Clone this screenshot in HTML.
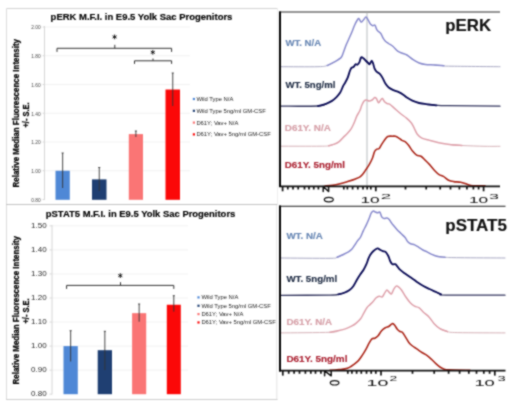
<!DOCTYPE html>
<html><head><meta charset="utf-8"><style>
html,body{margin:0;padding:0;background:#fff;}
svg{display:block;font-family:"Liberation Sans", sans-serif;}

</style></head><body>
<svg width="520" height="401" viewBox="0 0 520 401">
<defs><filter id="bl" x="0" y="0" width="520" height="401" filterUnits="userSpaceOnUse" color-interpolation-filters="sRGB"><feConvolveMatrix order="3" kernelMatrix="1 2 1 2 8 2 1 2 1" edgeMode="duplicate"/></filter></defs>
<g filter="url(#bl)">
<rect width="520" height="401" fill="#fff"/>
<line x1="6.5" y1="8.5" x2="277.5" y2="8.5" stroke="#d4d4d4" stroke-width="1"/>
<line x1="6.5" y1="8.5" x2="6.5" y2="400" stroke="#dcdcdc" stroke-width="1"/>
<line x1="277.5" y1="8.5" x2="277.5" y2="204" stroke="#eeeeee" stroke-width="1"/>
<line x1="276.8" y1="205" x2="276.8" y2="400" stroke="#e4e4e4" stroke-width="1"/>
<line x1="6" y1="204.5" x2="277.5" y2="204.5" stroke="#c4c4c4" stroke-width="1"/>
<line x1="6" y1="399.5" x2="277.5" y2="399.5" stroke="#cfcfcf" stroke-width="1"/>
<text x="50.6" y="20.3" font-size="9.2" font-weight="bold" fill="#000" text-anchor="start" textLength="181.8" lengthAdjust="spacingAndGlyphs" stroke="#000" stroke-width="0.15" >pERK M.F.I. in E9.5 Yolk Sac Progenitors</text>
<line x1="44" y1="27.00000000000003" x2="190" y2="27.00000000000003" stroke="#f2f2f2" stroke-width="1"/>
<line x1="44" y1="55.75" x2="190" y2="55.75" stroke="#f2f2f2" stroke-width="1"/>
<line x1="44" y1="84.5" x2="190" y2="84.5" stroke="#f2f2f2" stroke-width="1"/>
<line x1="44" y1="113.25000000000003" x2="190" y2="113.25000000000003" stroke="#f2f2f2" stroke-width="1"/>
<line x1="44" y1="142.0" x2="190" y2="142.0" stroke="#f2f2f2" stroke-width="1"/>
<line x1="44" y1="170.75" x2="190" y2="170.75" stroke="#f2f2f2" stroke-width="1"/>
<text x="40.6" y="29.30000000000003" font-size="4.8" font-weight="normal" fill="#444" text-anchor="end" >2.00</text>
<line x1="42.5" y1="27.00000000000003" x2="44.5" y2="27.00000000000003" stroke="#cfcfcf" stroke-width="0.8"/>
<text x="40.6" y="58.05" font-size="4.8" font-weight="normal" fill="#444" text-anchor="end" >1.80</text>
<line x1="42.5" y1="55.75" x2="44.5" y2="55.75" stroke="#cfcfcf" stroke-width="0.8"/>
<text x="40.6" y="86.8" font-size="4.8" font-weight="normal" fill="#444" text-anchor="end" >1.60</text>
<line x1="42.5" y1="84.5" x2="44.5" y2="84.5" stroke="#cfcfcf" stroke-width="0.8"/>
<text x="40.6" y="115.55000000000003" font-size="4.8" font-weight="normal" fill="#444" text-anchor="end" >1.40</text>
<line x1="42.5" y1="113.25000000000003" x2="44.5" y2="113.25000000000003" stroke="#cfcfcf" stroke-width="0.8"/>
<text x="40.6" y="144.3" font-size="4.8" font-weight="normal" fill="#444" text-anchor="end" >1.20</text>
<line x1="42.5" y1="142.0" x2="44.5" y2="142.0" stroke="#cfcfcf" stroke-width="0.8"/>
<text x="40.6" y="173.05" font-size="4.8" font-weight="normal" fill="#444" text-anchor="end" >1.00</text>
<line x1="42.5" y1="170.75" x2="44.5" y2="170.75" stroke="#cfcfcf" stroke-width="0.8"/>
<text x="40.6" y="201.8" font-size="4.8" font-weight="normal" fill="#444" text-anchor="end" >0.80</text>
<line x1="42.5" y1="199.5" x2="44.5" y2="199.5" stroke="#cfcfcf" stroke-width="0.8"/>
<line x1="44.5" y1="26" x2="44.5" y2="200" stroke="#d6d6d6" stroke-width="1"/>
<rect x="55.5" y="170.75" width="14.299999999999997" height="29.05000000000001" fill="#4f88d6"/>
<line x1="62.65" y1="153" x2="62.65" y2="188" stroke="#333" stroke-width="0.9"/>
<line x1="61.65" y1="153" x2="63.65" y2="153" stroke="#333" stroke-width="0.9"/>
<rect x="92" y="179.375" width="14.5" height="20.42500000000001" fill="#1f3f72"/>
<line x1="99.25" y1="167.5" x2="99.25" y2="191" stroke="#333" stroke-width="0.9"/>
<line x1="98.25" y1="167.5" x2="100.25" y2="167.5" stroke="#333" stroke-width="0.9"/>
<rect x="128.8" y="134.09375000000003" width="14.199999999999989" height="65.70624999999998" fill="#fa7575"/>
<line x1="135.9" y1="131" x2="135.9" y2="137" stroke="#333" stroke-width="0.9"/>
<line x1="134.9" y1="131" x2="136.9" y2="131" stroke="#333" stroke-width="0.9"/>
<rect x="165.5" y="89.53125000000001" width="14.5" height="110.26875" fill="#fb0808"/>
<line x1="172.75" y1="73" x2="172.75" y2="106" stroke="#333" stroke-width="0.9"/>
<line x1="171.75" y1="73" x2="173.75" y2="73" stroke="#333" stroke-width="0.9"/>
<polyline points="57.0,51.5 57.0,48.3 171.6,48.3 171.6,51.5" fill="none" stroke="#333" stroke-width="1" stroke-linejoin="round" stroke-linecap="round" />
<line x1="114.8" y1="48.3" x2="114.8" y2="44.8" stroke="#333" stroke-width="1"/>
<line x1="114.60" y1="34.50" x2="114.60" y2="39.30" stroke="#000" stroke-width="0.85"/><line x1="112.52" y1="35.70" x2="116.68" y2="38.10" stroke="#000" stroke-width="0.85"/><line x1="116.68" y1="35.70" x2="112.52" y2="38.10" stroke="#000" stroke-width="0.85"/>
<polyline points="134.5,63.5 134.5,60.8 171.6,60.8 171.6,63.5" fill="none" stroke="#333" stroke-width="1" stroke-linejoin="round" stroke-linecap="round" />
<line x1="153" y1="60.8" x2="153" y2="58.5" stroke="#333" stroke-width="1"/>
<line x1="152.80" y1="49.90" x2="152.80" y2="54.70" stroke="#000" stroke-width="0.85"/><line x1="150.72" y1="51.10" x2="154.88" y2="53.50" stroke="#000" stroke-width="0.85"/><line x1="154.88" y1="51.10" x2="150.72" y2="53.50" stroke="#000" stroke-width="0.85"/>
<rect x="192.8" y="97.9" width="2.2" height="2.2" fill="#4f88d6"/>
<text x="196.4" y="101.0" font-size="5.85" font-weight="normal" fill="#1a1a1a" text-anchor="start" >Wild Type N/A</text>
<rect x="192.8" y="109.7" width="2.2" height="2.2" fill="#1f3f72"/>
<text x="196.4" y="112.8" font-size="5.85" font-weight="normal" fill="#1a1a1a" text-anchor="start" >Wild Type 5ng/ml GM-CSF</text>
<rect x="192.8" y="121.5" width="2.2" height="2.2" fill="#fa7575"/>
<text x="196.4" y="124.6" font-size="5.85" font-weight="normal" fill="#1a1a1a" text-anchor="start" >D61Y; Vav+ N/A</text>
<rect x="192.8" y="133.3" width="2.2" height="2.2" fill="#fb0808"/>
<text x="196.4" y="136.4" font-size="5.85" font-weight="normal" fill="#1a1a1a" text-anchor="start" >D61Y; Vav+ 5ng/ml GM-CSF</text>
<g transform="translate(18.9,113.2) rotate(-90)"><text x="0" y="0" font-size="8.5" font-weight="bold" fill="#000" text-anchor="middle" textLength="148.5" lengthAdjust="spacingAndGlyphs" stroke="#000" stroke-width="0.25" >Relative Median Fluorescence Intensity</text></g>
<g transform="translate(28.8,115) rotate(-90)"><text x="0" y="0" font-size="8.5" font-weight="bold" fill="#000" text-anchor="middle" textLength="25" lengthAdjust="spacingAndGlyphs" stroke="#000" stroke-width="0.25" >+/- S.E.</text></g>
<text x="45.8" y="216.5" font-size="9.4" font-weight="bold" fill="#000" text-anchor="start" textLength="189.5" lengthAdjust="spacingAndGlyphs" stroke="#000" stroke-width="0.15" >pSTAT5 M.F.I. in E9.5 Yolk Sac Progenitors</text>
<line x1="52" y1="225.85" x2="188" y2="225.85" stroke="#f2f2f2" stroke-width="1"/>
<line x1="52" y1="249.90000000000003" x2="188" y2="249.90000000000003" stroke="#f2f2f2" stroke-width="1"/>
<line x1="52" y1="273.95" x2="188" y2="273.95" stroke="#f2f2f2" stroke-width="1"/>
<line x1="52" y1="298.0" x2="188" y2="298.0" stroke="#f2f2f2" stroke-width="1"/>
<line x1="52" y1="322.04999999999995" x2="188" y2="322.04999999999995" stroke="#f2f2f2" stroke-width="1"/>
<line x1="52" y1="346.1" x2="188" y2="346.1" stroke="#f2f2f2" stroke-width="1"/>
<line x1="52" y1="370.15" x2="188" y2="370.15" stroke="#f2f2f2" stroke-width="1"/>
<text x="46.6" y="227.75" font-size="8" font-weight="normal" fill="#2a2a2a" text-anchor="end" >1.50</text>
<line x1="49.5" y1="225.85" x2="52" y2="225.85" stroke="#cfcfcf" stroke-width="0.8"/>
<text x="46.6" y="251.80000000000004" font-size="8" font-weight="normal" fill="#2a2a2a" text-anchor="end" >1.40</text>
<line x1="49.5" y1="249.90000000000003" x2="52" y2="249.90000000000003" stroke="#cfcfcf" stroke-width="0.8"/>
<text x="46.6" y="275.84999999999997" font-size="8" font-weight="normal" fill="#2a2a2a" text-anchor="end" >1.30</text>
<line x1="49.5" y1="273.95" x2="52" y2="273.95" stroke="#cfcfcf" stroke-width="0.8"/>
<text x="46.6" y="299.9" font-size="8" font-weight="normal" fill="#2a2a2a" text-anchor="end" >1.20</text>
<line x1="49.5" y1="298.0" x2="52" y2="298.0" stroke="#cfcfcf" stroke-width="0.8"/>
<text x="46.6" y="323.94999999999993" font-size="8" font-weight="normal" fill="#2a2a2a" text-anchor="end" >1.10</text>
<line x1="49.5" y1="322.04999999999995" x2="52" y2="322.04999999999995" stroke="#cfcfcf" stroke-width="0.8"/>
<text x="46.6" y="348.0" font-size="8" font-weight="normal" fill="#2a2a2a" text-anchor="end" >1.00</text>
<line x1="49.5" y1="346.1" x2="52" y2="346.1" stroke="#cfcfcf" stroke-width="0.8"/>
<text x="46.6" y="372.04999999999995" font-size="8" font-weight="normal" fill="#2a2a2a" text-anchor="end" >0.90</text>
<line x1="49.5" y1="370.15" x2="52" y2="370.15" stroke="#cfcfcf" stroke-width="0.8"/>
<text x="46.6" y="396.09999999999997" font-size="8" font-weight="normal" fill="#2a2a2a" text-anchor="end" >0.80</text>
<line x1="49.5" y1="394.2" x2="52" y2="394.2" stroke="#cfcfcf" stroke-width="0.8"/>
<line x1="52" y1="225" x2="52" y2="394.5" stroke="#d6d6d6" stroke-width="1"/>
<rect x="63.5" y="346.1" width="14.299999999999997" height="48.099999999999966" fill="#4f88d6"/>
<line x1="70.65" y1="330.7" x2="70.65" y2="361.5" stroke="#333" stroke-width="0.9"/>
<line x1="69.65" y1="330.7" x2="71.65" y2="330.7" stroke="#333" stroke-width="0.9"/>
<rect x="97.7" y="350.1885" width="14.299999999999997" height="44.01150000000001" fill="#1f3f72"/>
<line x1="104.85" y1="331.3" x2="104.85" y2="370" stroke="#333" stroke-width="0.9"/>
<line x1="103.85" y1="331.3" x2="105.85" y2="331.3" stroke="#333" stroke-width="0.9"/>
<rect x="132.1" y="313.1515" width="14.099999999999994" height="81.04849999999999" fill="#fa7575"/>
<line x1="139.14999999999998" y1="304" x2="139.14999999999998" y2="321.7" stroke="#333" stroke-width="0.9"/>
<line x1="138.14999999999998" y1="304" x2="140.14999999999998" y2="304" stroke="#333" stroke-width="0.9"/>
<rect x="166.8" y="304.73400000000004" width="14.0" height="89.46599999999995" fill="#fb0808"/>
<line x1="173.8" y1="295.7" x2="173.8" y2="311.7" stroke="#333" stroke-width="0.9"/>
<line x1="172.8" y1="295.7" x2="174.8" y2="295.7" stroke="#333" stroke-width="0.9"/>
<polyline points="66.6,288.5 66.6,285.4 173.8,285.4 173.8,288.5" fill="none" stroke="#333" stroke-width="1" stroke-linejoin="round" stroke-linecap="round" />
<line x1="120.5" y1="285.4" x2="120.5" y2="282.2" stroke="#333" stroke-width="1"/>
<line x1="120.30" y1="273.20" x2="120.30" y2="278.00" stroke="#000" stroke-width="0.85"/><line x1="118.22" y1="274.40" x2="122.38" y2="276.80" stroke="#000" stroke-width="0.85"/><line x1="122.38" y1="274.40" x2="118.22" y2="276.80" stroke="#000" stroke-width="0.85"/>
<rect x="197.4" y="296.29999999999995" width="2.2" height="2.2" fill="#4f88d6"/>
<text x="201.4" y="299.4" font-size="5.85" font-weight="normal" fill="#1a1a1a" text-anchor="start" >Wild Type N/A</text>
<rect x="197.4" y="304.65" width="2.2" height="2.2" fill="#1f3f72"/>
<text x="201.4" y="307.75" font-size="5.85" font-weight="normal" fill="#1a1a1a" text-anchor="start" >Wild Type 5ng/ml GM-CSF</text>
<rect x="197.4" y="312.99999999999994" width="2.2" height="2.2" fill="#fa7575"/>
<text x="201.4" y="316.09999999999997" font-size="5.85" font-weight="normal" fill="#1a1a1a" text-anchor="start" >D61Y; Vav+ N/A</text>
<rect x="197.4" y="321.34999999999997" width="2.2" height="2.2" fill="#fb0808"/>
<text x="201.4" y="324.45" font-size="5.85" font-weight="normal" fill="#1a1a1a" text-anchor="start" >D61Y; Vav+ 5ng/ml GM-CSF</text>
<g transform="translate(18.9,310.2) rotate(-90)"><text x="0" y="0" font-size="8.5" font-weight="bold" fill="#000" text-anchor="middle" textLength="148.5" lengthAdjust="spacingAndGlyphs" stroke="#000" stroke-width="0.25" >Relative Median Fluorescence Intensity</text></g>
<g transform="translate(28.8,311) rotate(-90)"><text x="0" y="0" font-size="8.5" font-weight="bold" fill="#000" text-anchor="middle" textLength="25" lengthAdjust="spacingAndGlyphs" stroke="#000" stroke-width="0.25" >+/- S.E.</text></g>
<line x1="279" y1="12" x2="500" y2="12" stroke="#2a2a2a" stroke-width="1.15"/>
<line x1="367" y1="12.5" x2="367" y2="186" stroke="#a9afb2" stroke-width="0.85"/>
<path d="M281.00,66.70 C287.17,66.70 310.30,66.90 318.00,66.70 C325.70,66.50 324.45,66.30 327.20,65.50 C329.95,64.70 333.28,62.50 334.50,61.90" fill="none" stroke="#a9a9c4" stroke-width="1.0" stroke-linejoin="round" stroke-linecap="round"/><path d="M434.60,65.00 C436.13,65.13 441.23,65.60 443.80,65.80 C446.37,66.00 440.63,66.05 450.00,66.20 C459.37,66.35 491.67,66.62 500.00,66.70" fill="none" stroke="#a9a9c4" stroke-width="1.0" stroke-linejoin="round" stroke-linecap="round"/><path d="M327.20,65.50 C328.42,64.90 332.20,63.22 334.50,61.90 C336.80,60.58 339.57,59.05 341.00,57.60 C342.43,56.15 342.27,55.25 343.10,53.20 C343.93,51.15 345.03,47.70 346.00,45.30 C346.97,42.90 347.93,40.98 348.90,38.80 C349.87,36.62 350.83,34.50 351.80,32.20 C352.77,29.90 353.78,27.03 354.70,25.00 C355.62,22.97 356.62,21.08 357.30,20.00 C357.98,18.92 358.15,18.15 358.80,18.50 C359.45,18.85 360.43,21.85 361.20,22.10 C361.97,22.35 362.60,20.83 363.40,20.00 C364.20,19.17 365.15,16.98 366.00,17.10 C366.85,17.22 367.73,19.50 368.50,20.70 C369.27,21.90 369.88,23.47 370.60,24.30 C371.32,25.13 372.07,25.53 372.80,25.70 C373.53,25.87 374.28,24.57 375.00,25.30 C375.72,26.03 376.13,28.73 377.10,30.10 C378.07,31.47 379.80,32.17 380.80,33.50 C381.80,34.83 382.33,36.82 383.10,38.10 C383.87,39.38 384.50,40.30 385.40,41.20 C386.30,42.10 387.22,42.62 388.50,43.50 C389.78,44.38 391.57,45.22 393.10,46.50 C394.63,47.78 396.17,50.08 397.70,51.20 C399.23,52.32 400.77,52.57 402.30,53.20 C403.83,53.83 405.10,53.93 406.90,55.00 C408.70,56.07 411.05,58.27 413.10,59.60 C415.15,60.93 417.15,62.18 419.20,63.00 C421.25,63.82 422.83,64.17 425.40,64.50 C427.97,64.83 431.53,64.78 434.60,65.00 C437.67,65.22 442.27,65.67 443.80,65.80" fill="none" stroke="#8789cc" stroke-width="1.5" stroke-linejoin="round" stroke-linecap="round"/>
<path d="M281.00,106.20 C287.17,106.17 310.50,106.40 318.00,106.00 C325.50,105.60 324.67,104.17 326.00,103.80" fill="none" stroke="#33355e" stroke-width="1.3" stroke-linejoin="round" stroke-linecap="round"/><path d="M427.10,104.30 C428.67,104.47 433.13,105.07 436.50,105.30 C439.87,105.53 436.72,105.55 447.30,105.70 C457.88,105.85 491.22,106.12 500.00,106.20" fill="none" stroke="#33355e" stroke-width="1.3" stroke-linejoin="round" stroke-linecap="round"/><path d="M318.00,106.00 C319.33,105.63 323.67,104.65 326.00,103.80 C328.33,102.95 330.25,102.02 332.00,100.90 C333.75,99.78 335.13,98.48 336.50,97.10 C337.87,95.72 339.08,94.47 340.20,92.60 C341.32,90.73 342.33,87.63 343.20,85.90 C344.07,84.17 344.65,83.57 345.40,82.20 C346.15,80.83 346.95,79.58 347.70,77.70 C348.45,75.82 349.28,72.53 349.90,70.90 C350.52,69.27 350.77,68.58 351.40,67.90 C352.03,67.22 353.00,67.42 353.70,66.80 C354.40,66.18 354.98,64.55 355.60,64.20 C356.22,63.85 356.80,64.95 357.40,64.70 C358.00,64.45 358.58,63.90 359.20,62.70 C359.82,61.50 360.40,58.25 361.10,57.50 C361.80,56.75 362.65,57.70 363.40,58.20 C364.15,58.70 364.85,59.75 365.60,60.50 C366.35,61.25 367.22,62.08 367.90,62.70 C368.58,63.32 369.08,64.52 369.70,64.20 C370.32,63.88 371.03,60.92 371.60,60.80 C372.17,60.68 372.60,62.18 373.10,63.50 C373.60,64.82 374.03,67.33 374.60,68.70 C375.17,70.07 375.63,70.83 376.50,71.70 C377.37,72.57 378.77,72.83 379.80,73.90 C380.83,74.97 381.77,76.50 382.70,78.10 C383.63,79.70 384.40,81.93 385.40,83.50 C386.40,85.07 387.35,86.38 388.70,87.50 C390.05,88.62 391.82,89.42 393.50,90.20 C395.18,90.98 397.12,91.42 398.80,92.20 C400.48,92.98 402.25,94.00 403.60,94.90 C404.95,95.80 405.45,96.63 406.90,97.60 C408.35,98.57 410.28,99.80 412.30,100.70 C414.32,101.60 416.53,102.40 419.00,103.00 C421.47,103.60 424.18,103.92 427.10,104.30 C430.02,104.68 434.93,105.13 436.50,105.30" fill="none" stroke="#0a0b55" stroke-width="1.85" stroke-linejoin="round" stroke-linecap="round"/>
<path d="M281.00,146.20 C287.50,146.20 312.05,146.27 320.00,146.20 C327.95,146.13 326.28,146.15 328.70,145.80 C331.12,145.45 333.53,144.38 334.50,144.10" fill="none" stroke="#d6b2b8" stroke-width="1.0" stroke-linejoin="round" stroke-linecap="round"/><path d="M449.60,144.50 C451.65,144.67 456.00,145.20 461.90,145.50 C467.80,145.80 478.65,146.17 485.00,146.30 C491.35,146.43 497.50,146.30 500.00,146.30" fill="none" stroke="#d6b2b8" stroke-width="1.0" stroke-linejoin="round" stroke-linecap="round"/><path d="M328.70,145.80 C329.67,145.52 332.82,144.75 334.50,144.10 C336.18,143.45 337.37,142.98 338.80,141.90 C340.23,140.82 341.65,139.05 343.10,137.60 C344.55,136.15 346.17,134.65 347.50,133.20 C348.83,131.75 350.02,130.58 351.10,128.90 C352.18,127.22 353.03,125.27 354.00,123.10 C354.97,120.93 355.93,117.95 356.90,115.90 C357.87,113.85 358.97,112.62 359.80,110.80 C360.63,108.98 361.18,106.63 361.90,105.00 C362.62,103.37 363.37,101.83 364.10,101.00 C364.83,100.17 365.45,100.00 366.30,100.00 C367.15,100.00 368.23,101.00 369.20,101.00 C370.17,101.00 371.18,100.58 372.10,100.00 C373.02,99.42 373.98,97.75 374.70,97.50 C375.42,97.25 375.75,97.62 376.40,98.50 C377.05,99.38 377.88,102.55 378.60,102.80 C379.32,103.05 380.05,100.72 380.70,100.00 C381.35,99.28 381.82,98.15 382.50,98.50 C383.18,98.85 384.00,101.25 384.80,102.10 C385.60,102.95 386.50,103.25 387.30,103.60 C388.10,103.95 388.45,103.45 389.60,104.20 C390.75,104.95 392.40,106.55 394.20,108.10 C396.00,109.65 398.35,111.83 400.40,113.50 C402.45,115.17 404.70,116.57 406.50,118.10 C408.30,119.63 409.92,121.03 411.20,122.70 C412.48,124.37 413.18,126.18 414.20,128.10 C415.22,130.02 416.02,132.53 417.30,134.20 C418.58,135.87 419.85,137.07 421.90,138.10 C423.95,139.13 426.78,139.63 429.60,140.40 C432.42,141.17 435.47,142.02 438.80,142.70 C442.13,143.38 445.75,144.03 449.60,144.50 C453.45,144.97 459.85,145.33 461.90,145.50" fill="none" stroke="#dea0aa" stroke-width="1.5" stroke-linejoin="round" stroke-linecap="round"/>
<path d="M325.00,186.00 C326.22,185.90 329.80,185.77 332.30,185.40 C334.80,185.03 337.43,184.45 340.00,183.80 C342.57,183.15 345.13,182.32 347.70,181.50 C350.27,180.68 353.35,179.67 355.40,178.90 C357.45,178.13 358.72,177.75 360.00,176.90 C361.28,176.05 362.07,175.08 363.10,173.80 C364.13,172.52 365.18,170.73 366.20,169.20 C367.22,167.67 368.18,166.38 369.20,164.60 C370.22,162.82 371.40,160.68 372.30,158.50 C373.20,156.32 373.83,153.05 374.60,151.50 C375.37,149.95 376.13,149.70 376.90,149.20 C377.67,148.70 378.43,149.27 379.20,148.50 C379.97,147.73 380.60,146.02 381.50,144.60 C382.40,143.18 383.57,141.35 384.60,140.00 C385.63,138.65 386.42,137.13 387.70,136.50 C388.98,135.87 391.02,136.25 392.30,136.20 C393.58,136.15 394.37,135.93 395.40,136.20 C396.43,136.47 397.42,137.10 398.50,137.80 C399.58,138.50 400.75,139.73 401.90,140.40 C403.05,141.07 404.25,140.93 405.40,141.80 C406.55,142.67 407.65,144.10 408.80,145.60 C409.95,147.10 411.00,149.22 412.30,150.80 C413.60,152.38 415.15,154.18 416.60,155.10 C418.05,156.02 419.55,155.43 421.00,156.30 C422.45,157.17 423.87,158.92 425.30,160.30 C426.73,161.68 428.02,162.87 429.60,164.60 C431.18,166.33 433.22,169.03 434.80,170.70 C436.38,172.37 437.67,173.65 439.10,174.60 C440.53,175.55 441.82,175.47 443.40,176.40 C444.98,177.33 446.87,179.33 448.60,180.20 C450.33,181.07 451.78,181.27 453.80,181.60 C455.82,181.93 458.38,181.72 460.70,182.20 C463.02,182.68 465.67,183.92 467.70,184.50 C469.73,185.08 470.02,185.47 472.90,185.70 C475.78,185.93 482.98,185.87 485.00,185.90" fill="none" stroke="#ab2619" stroke-width="1.6" stroke-linejoin="round" stroke-linecap="round"/>
<text x="285.4" y="46.2" font-size="9.6" font-weight="bold" fill="#6887b4" text-anchor="start" textLength="35.8" lengthAdjust="spacingAndGlyphs" stroke="#6887b4" stroke-width="0.15" >WT. N/A</text>
<text x="285.4" y="87.8" font-size="9.6" font-weight="bold" fill="#1f2c44" text-anchor="start" textLength="50" lengthAdjust="spacingAndGlyphs" stroke="#1f2c44" stroke-width="0.15" >WT. 5ng/ml</text>
<text x="284.8" y="131.3" font-size="9.6" font-weight="bold" fill="#d6a0a8" text-anchor="start" textLength="46" lengthAdjust="spacingAndGlyphs" stroke="#d6a0a8" stroke-width="0.15" >D61Y. N/A</text>
<text x="284.8" y="168.2" font-size="9.6" font-weight="bold" fill="#ab2232" text-anchor="start" textLength="60.2" lengthAdjust="spacingAndGlyphs" stroke="#ab2232" stroke-width="0.15" >D61Y. 5ng/ml</text>
<text x="445.3" y="31.4" font-size="16.5" font-weight="bold" fill="#111" text-anchor="start" textLength="45.8" lengthAdjust="spacingAndGlyphs" stroke="#111" stroke-width="0.15" >pERK</text>
<line x1="279" y1="186.3" x2="500" y2="186.3" stroke="#111" stroke-width="1.8"/>
<line x1="280" y1="11.5" x2="280" y2="187" stroke="#000" stroke-width="2"/>
<line x1="282.6" y1="186.5" x2="282.6" y2="191.3" stroke="#111" stroke-width="1.7"/>
<line x1="375.8" y1="186.5" x2="375.8" y2="191.3" stroke="#111" stroke-width="1.7"/>
<line x1="483.6" y1="186.5" x2="483.6" y2="191.3" stroke="#111" stroke-width="1.7"/>
<line x1="287.8" y1="186.5" x2="287.8" y2="189.5" stroke="#111" stroke-width="1.7"/>
<line x1="293" y1="186.5" x2="293" y2="189.5" stroke="#111" stroke-width="1.7"/>
<line x1="298.2" y1="186.5" x2="298.2" y2="189.5" stroke="#111" stroke-width="1.7"/>
<line x1="304.5" y1="186.5" x2="304.5" y2="189.5" stroke="#111" stroke-width="1.7"/>
<line x1="309" y1="186.5" x2="309" y2="189.5" stroke="#111" stroke-width="1.7"/>
<line x1="313.75" y1="186.5" x2="313.75" y2="189.5" stroke="#111" stroke-width="1.7"/>
<line x1="318.4" y1="186.5" x2="318.4" y2="189.5" stroke="#111" stroke-width="1.7"/>
<line x1="343.8" y1="186.5" x2="343.8" y2="189.5" stroke="#111" stroke-width="1.7"/>
<line x1="347.4" y1="186.5" x2="347.4" y2="189.5" stroke="#111" stroke-width="1.7"/>
<line x1="352.6" y1="186.5" x2="352.6" y2="189.5" stroke="#111" stroke-width="1.7"/>
<line x1="357.8" y1="186.5" x2="357.8" y2="189.5" stroke="#111" stroke-width="1.7"/>
<line x1="363" y1="186.5" x2="363" y2="189.5" stroke="#111" stroke-width="1.7"/>
<line x1="367.2" y1="186.5" x2="367.2" y2="189.5" stroke="#111" stroke-width="1.7"/>
<line x1="370.8" y1="186.5" x2="370.8" y2="189.5" stroke="#111" stroke-width="1.7"/>
<line x1="405.5" y1="186.5" x2="405.5" y2="189.5" stroke="#111" stroke-width="1.7"/>
<line x1="426.2" y1="186.5" x2="426.2" y2="189.5" stroke="#111" stroke-width="1.7"/>
<line x1="440.2" y1="186.5" x2="440.2" y2="189.5" stroke="#111" stroke-width="1.7"/>
<line x1="450.5" y1="186.5" x2="450.5" y2="189.5" stroke="#111" stroke-width="1.7"/>
<line x1="459.4" y1="186.5" x2="459.4" y2="189.5" stroke="#111" stroke-width="1.7"/>
<line x1="466.9" y1="186.5" x2="466.9" y2="189.5" stroke="#111" stroke-width="1.7"/>
<line x1="473.4" y1="186.5" x2="473.4" y2="189.5" stroke="#111" stroke-width="1.7"/>
<line x1="478.6" y1="186.5" x2="478.6" y2="189.5" stroke="#111" stroke-width="1.7"/>
<polyline points="323.2,191.5 323.2,186.5 328.6,191.5 328.6,186.5" fill="none" stroke="#111" stroke-width="1.5" stroke-linejoin="round" stroke-linecap="round" />
<ellipse cx="328.8" cy="199.6" rx="4.5" ry="2.3" fill="none" stroke="#111" stroke-width="1.2"/>
<text x="360.4" y="202.6" font-size="8.2" font-weight="normal" fill="#111" text-anchor="start" textLength="19.2" lengthAdjust="spacingAndGlyphs" >10</text>
<text x="380.8" y="198.8" font-size="7" font-weight="normal" fill="#111" text-anchor="start" textLength="10.4" lengthAdjust="spacingAndGlyphs" >2</text>
<text x="468.9" y="202.6" font-size="8.2" font-weight="normal" fill="#111" text-anchor="start" textLength="19.2" lengthAdjust="spacingAndGlyphs" >10</text>
<text x="489" y="198.8" font-size="7" font-weight="normal" fill="#111" text-anchor="start" textLength="10" lengthAdjust="spacingAndGlyphs" >3</text>
<line x1="279" y1="206.2" x2="505.5" y2="206.2" stroke="#1a1a1a" stroke-width="1.15"/>
<path d="M281.00,258.00 C289.17,258.05 320.65,258.42 330.00,258.30 C339.35,258.18 334.97,257.88 337.10,257.30 C339.23,256.72 341.85,255.22 342.80,254.80" fill="none" stroke="#a9a9c4" stroke-width="1.0" stroke-linejoin="round" stroke-linecap="round"/><path d="M436.70,256.20 C438.07,256.38 441.02,257.05 444.90,257.30 C448.78,257.55 449.98,257.58 460.00,257.70 C470.02,257.82 497.50,257.95 505.00,258.00" fill="none" stroke="#a9a9c4" stroke-width="1.0" stroke-linejoin="round" stroke-linecap="round"/><path d="M337.10,257.30 C338.05,256.88 340.90,255.70 342.80,254.80 C344.70,253.90 346.97,252.85 348.50,251.90 C350.03,250.95 350.93,250.28 352.00,249.10 C353.07,247.92 353.95,246.22 354.90,244.80 C355.85,243.38 356.75,241.90 357.70,240.60 C358.65,239.30 359.65,238.67 360.60,237.00 C361.55,235.33 362.45,232.62 363.40,230.60 C364.35,228.58 365.35,226.92 366.30,224.90 C367.25,222.88 368.27,220.52 369.10,218.50 C369.93,216.48 370.58,214.05 371.30,212.80 C372.02,211.55 372.70,211.12 373.40,211.00 C374.10,210.88 374.78,211.80 375.50,212.10 C376.22,212.40 376.98,212.80 377.70,212.80 C378.42,212.80 379.10,211.38 379.80,212.10 C380.50,212.82 381.18,216.03 381.90,217.10 C382.62,218.17 383.27,218.33 384.10,218.50 C384.93,218.67 386.08,217.98 386.90,218.10 C387.72,218.22 388.28,218.47 389.00,219.20 C389.72,219.93 390.58,221.60 391.20,222.50 C391.82,223.40 391.75,223.45 392.70,224.60 C393.65,225.75 395.52,227.92 396.90,229.40 C398.28,230.88 399.63,232.13 401.00,233.50 C402.37,234.87 403.97,236.22 405.10,237.60 C406.23,238.98 406.88,240.77 407.80,241.80 C408.72,242.83 409.45,243.28 410.60,243.80 C411.75,244.32 413.33,244.32 414.70,244.90 C416.07,245.48 417.43,246.45 418.80,247.30 C420.17,248.15 421.52,249.25 422.90,250.00 C424.28,250.75 425.72,251.12 427.10,251.80 C428.48,252.48 429.60,253.37 431.20,254.10 C432.80,254.83 434.42,255.67 436.70,256.20 C438.98,256.73 443.53,257.12 444.90,257.30" fill="none" stroke="#8789cc" stroke-width="1.5" stroke-linejoin="round" stroke-linecap="round"/>
<path d="M281.00,295.30 C289.17,295.27 320.47,295.25 330.00,295.10 C339.53,294.95 335.92,294.75 338.20,294.40 C340.48,294.05 342.78,293.23 343.70,293.00" fill="none" stroke="#33355e" stroke-width="1.3" stroke-linejoin="round" stroke-linecap="round"/><path d="M436.00,292.00 C436.83,292.38 439.33,293.78 441.00,294.30 C442.67,294.82 435.33,294.95 446.00,295.10 C456.67,295.25 495.17,295.18 505.00,295.20" fill="none" stroke="#33355e" stroke-width="1.3" stroke-linejoin="round" stroke-linecap="round"/><path d="M338.20,294.40 C339.12,294.17 341.87,293.68 343.70,293.00 C345.53,292.32 347.60,291.43 349.20,290.30 C350.80,289.17 352.03,287.92 353.30,286.20 C354.57,284.48 355.65,281.95 356.80,280.00 C357.95,278.05 359.07,276.22 360.20,274.50 C361.33,272.78 362.57,271.42 363.60,269.70 C364.63,267.98 365.60,266.03 366.40,264.20 C367.20,262.37 367.72,260.30 368.40,258.70 C369.08,257.10 369.70,255.85 370.50,254.60 C371.30,253.35 372.05,252.23 373.20,251.20 C374.35,250.17 376.25,248.63 377.40,248.40 C378.55,248.17 379.20,249.33 380.10,249.80 C381.00,250.27 381.88,250.85 382.80,251.20 C383.72,251.55 384.68,251.10 385.60,251.90 C386.52,252.70 387.50,254.40 388.30,256.00 C389.10,257.60 389.72,260.13 390.40,261.50 C391.08,262.87 391.60,263.75 392.40,264.20 C393.20,264.65 394.38,263.85 395.20,264.20 C396.02,264.55 396.50,265.38 397.30,266.30 C398.10,267.22 398.72,268.50 400.00,269.70 C401.28,270.90 403.33,272.28 405.00,273.50 C406.67,274.72 408.42,275.92 410.00,277.00 C411.58,278.08 413.27,279.13 414.50,280.00 C415.73,280.87 415.92,281.20 417.40,282.20 C418.88,283.20 421.40,284.87 423.40,286.00 C425.40,287.13 427.30,288.00 429.40,289.00 C431.50,290.00 434.07,291.12 436.00,292.00 C437.93,292.88 440.17,293.92 441.00,294.30" fill="none" stroke="#0a0b55" stroke-width="1.85" stroke-linejoin="round" stroke-linecap="round"/>
<path d="M281.00,332.90 C289.17,332.80 320.55,332.65 330.00,332.30 C339.45,331.95 336.42,331.05 337.70,330.80" fill="none" stroke="#d6b2b8" stroke-width="1.0" stroke-linejoin="round" stroke-linecap="round"/><path d="M439.90,328.60 C441.15,329.10 444.42,330.93 447.40,331.60 C450.38,332.27 448.20,332.38 457.80,332.60 C467.40,332.82 497.13,332.85 505.00,332.90" fill="none" stroke="#d6b2b8" stroke-width="1.0" stroke-linejoin="round" stroke-linecap="round"/><path d="M330.00,332.30 C331.28,332.05 335.13,331.37 337.70,330.80 C340.27,330.23 343.10,329.67 345.40,328.90 C347.70,328.13 349.70,327.17 351.50,326.20 C353.30,325.23 354.65,324.38 356.20,323.10 C357.75,321.82 359.53,320.17 360.80,318.50 C362.07,316.83 362.78,314.90 363.80,313.10 C364.82,311.30 365.87,309.12 366.90,307.70 C367.93,306.28 368.97,305.63 370.00,304.60 C371.03,303.57 372.07,302.65 373.10,301.50 C374.13,300.35 375.18,298.58 376.20,297.70 C377.22,296.82 378.18,296.33 379.20,296.20 C380.22,296.07 381.40,297.42 382.30,296.90 C383.20,296.38 383.83,294.25 384.60,293.10 C385.37,291.95 386.13,290.13 386.90,290.00 C387.67,289.87 388.43,291.67 389.20,292.30 C389.97,292.93 390.73,294.32 391.50,293.80 C392.27,293.28 393.02,290.47 393.80,289.20 C394.58,287.93 395.42,286.58 396.20,286.20 C396.98,285.82 397.62,286.27 398.50,286.90 C399.38,287.53 400.33,288.40 401.50,290.00 C402.67,291.60 404.08,294.43 405.50,296.50 C406.92,298.57 408.50,300.78 410.00,302.40 C411.50,304.02 413.02,305.32 414.50,306.20 C415.98,307.08 417.42,306.70 418.90,307.70 C420.38,308.70 421.65,310.58 423.40,312.20 C425.15,313.82 427.65,315.53 429.40,317.40 C431.15,319.27 432.15,321.53 433.90,323.40 C435.65,325.27 437.65,327.23 439.90,328.60 C442.15,329.97 446.15,331.10 447.40,331.60" fill="none" stroke="#dea0aa" stroke-width="1.5" stroke-linejoin="round" stroke-linecap="round"/>
<path d="M330.00,370.40 C331.50,370.27 336.50,369.85 339.00,369.60 C341.50,369.35 343.27,369.27 345.00,368.90 C346.73,368.53 347.92,368.15 349.40,367.40 C350.88,366.65 352.40,365.53 353.90,364.40 C355.40,363.27 357.02,362.10 358.40,360.60 C359.78,359.10 360.95,357.27 362.20,355.40 C363.45,353.53 364.78,351.40 365.90,349.40 C367.02,347.40 367.90,345.15 368.90,343.40 C369.90,341.65 370.90,339.77 371.90,338.90 C372.90,338.03 373.90,338.68 374.90,338.20 C375.90,337.72 376.78,337.25 377.90,336.00 C379.02,334.75 380.37,332.08 381.60,330.70 C382.83,329.32 384.05,328.45 385.30,327.70 C386.55,326.95 387.97,326.87 389.10,326.20 C390.23,325.53 391.23,323.95 392.10,323.70 C392.97,323.45 393.43,323.78 394.30,324.70 C395.17,325.62 396.35,328.07 397.30,329.20 C398.25,330.33 399.17,330.98 400.00,331.50 C400.83,332.02 401.43,331.45 402.30,332.30 C403.17,333.15 404.12,334.92 405.20,336.60 C406.28,338.28 407.58,340.83 408.80,342.40 C410.02,343.97 411.17,344.92 412.50,346.00 C413.83,347.08 415.23,347.82 416.80,348.90 C418.37,349.98 420.22,351.42 421.90,352.50 C423.58,353.58 425.33,354.30 426.90,355.40 C428.47,356.50 429.85,357.77 431.30,359.10 C432.75,360.43 434.17,362.08 435.60,363.40 C437.03,364.72 438.45,366.03 439.90,367.00 C441.35,367.97 442.85,368.72 444.30,369.20 C445.75,369.68 444.32,369.70 448.60,369.90 C452.88,370.10 466.43,370.32 470.00,370.40" fill="none" stroke="#ab2619" stroke-width="1.6" stroke-linejoin="round" stroke-linecap="round"/>
<text x="286.4" y="239.1" font-size="9.6" font-weight="bold" fill="#6887b4" text-anchor="start" textLength="36.4" lengthAdjust="spacingAndGlyphs" stroke="#6887b4" stroke-width="0.15" >WT. N/A</text>
<text x="286.4" y="281.7" font-size="9.6" font-weight="bold" fill="#1f2c44" text-anchor="start" textLength="50.8" lengthAdjust="spacingAndGlyphs" stroke="#1f2c44" stroke-width="0.15" >WT. 5ng/ml</text>
<text x="286.4" y="325" font-size="9.6" font-weight="bold" fill="#d6a0a8" text-anchor="start" textLength="45.8" lengthAdjust="spacingAndGlyphs" stroke="#d6a0a8" stroke-width="0.15" >D61Y. N/A</text>
<text x="286.4" y="361.7" font-size="9.6" font-weight="bold" fill="#ab2232" text-anchor="start" textLength="61" lengthAdjust="spacingAndGlyphs" stroke="#ab2232" stroke-width="0.15" >D61Y. 5ng/ml</text>
<text x="445.3" y="231" font-size="16" font-weight="bold" fill="#111" text-anchor="start" textLength="61.6" lengthAdjust="spacingAndGlyphs" stroke="#111" stroke-width="0.15" >pSTAT5</text>
<line x1="279" y1="370.6" x2="505.5" y2="370.6" stroke="#111" stroke-width="1.8"/>
<line x1="280" y1="205.5" x2="280" y2="371.5" stroke="#000" stroke-width="2"/>
<line x1="282.8" y1="370.8" x2="282.8" y2="375.6" stroke="#111" stroke-width="1.7"/>
<line x1="381" y1="370.8" x2="381" y2="375.6" stroke="#111" stroke-width="1.7"/>
<line x1="494.8" y1="370.8" x2="494.8" y2="375.6" stroke="#111" stroke-width="1.7"/>
<line x1="288.7" y1="370.8" x2="288.7" y2="373.8" stroke="#111" stroke-width="1.7"/>
<line x1="294.1" y1="370.8" x2="294.1" y2="373.8" stroke="#111" stroke-width="1.7"/>
<line x1="299.5" y1="370.8" x2="299.5" y2="373.8" stroke="#111" stroke-width="1.7"/>
<line x1="305.4" y1="370.8" x2="305.4" y2="373.8" stroke="#111" stroke-width="1.7"/>
<line x1="310.8" y1="370.8" x2="310.8" y2="373.8" stroke="#111" stroke-width="1.7"/>
<line x1="315.5" y1="370.8" x2="315.5" y2="373.8" stroke="#111" stroke-width="1.7"/>
<line x1="320.9" y1="370.8" x2="320.9" y2="373.8" stroke="#111" stroke-width="1.7"/>
<line x1="347.8" y1="370.8" x2="347.8" y2="373.8" stroke="#111" stroke-width="1.7"/>
<line x1="351.9" y1="370.8" x2="351.9" y2="373.8" stroke="#111" stroke-width="1.7"/>
<line x1="356.6" y1="370.8" x2="356.6" y2="373.8" stroke="#111" stroke-width="1.7"/>
<line x1="361.3" y1="370.8" x2="361.3" y2="373.8" stroke="#111" stroke-width="1.7"/>
<line x1="366.5" y1="370.8" x2="366.5" y2="373.8" stroke="#111" stroke-width="1.7"/>
<line x1="371.2" y1="370.8" x2="371.2" y2="373.8" stroke="#111" stroke-width="1.7"/>
<line x1="375.8" y1="370.8" x2="375.8" y2="373.8" stroke="#111" stroke-width="1.7"/>
<line x1="412.5" y1="370.8" x2="412.5" y2="373.8" stroke="#111" stroke-width="1.7"/>
<line x1="434.2" y1="370.8" x2="434.2" y2="373.8" stroke="#111" stroke-width="1.7"/>
<line x1="448.6" y1="370.8" x2="448.6" y2="373.8" stroke="#111" stroke-width="1.7"/>
<line x1="459.6" y1="370.8" x2="459.6" y2="373.8" stroke="#111" stroke-width="1.7"/>
<line x1="468.8" y1="370.8" x2="468.8" y2="373.8" stroke="#111" stroke-width="1.7"/>
<line x1="476.5" y1="370.8" x2="476.5" y2="373.8" stroke="#111" stroke-width="1.7"/>
<line x1="483.8" y1="370.8" x2="483.8" y2="373.8" stroke="#111" stroke-width="1.7"/>
<line x1="489.6" y1="370.8" x2="489.6" y2="373.8" stroke="#111" stroke-width="1.7"/>
<polyline points="324.6,375.8 324.6,370.8 331.2,375.8 331.2,370.8" fill="none" stroke="#111" stroke-width="1.5" stroke-linejoin="round" stroke-linecap="round" />
<ellipse cx="334.6" cy="382.8" rx="4.3" ry="2.2" fill="none" stroke="#111" stroke-width="1.2"/>
<text x="366.6" y="385.9" font-size="8.2" font-weight="normal" fill="#111" text-anchor="start" textLength="21.8" lengthAdjust="spacingAndGlyphs" >10</text>
<text x="389.4" y="381.3" font-size="7" font-weight="normal" fill="#111" text-anchor="start" textLength="7.7" lengthAdjust="spacingAndGlyphs" >2</text>
<text x="474.4" y="385.7" font-size="8.2" font-weight="normal" fill="#111" text-anchor="start" textLength="20.4" lengthAdjust="spacingAndGlyphs" >10</text>
<text x="497.5" y="381" font-size="7" font-weight="normal" fill="#111" text-anchor="start" textLength="8.2" lengthAdjust="spacingAndGlyphs" >3</text>
</g>
</svg>
</body></html>
